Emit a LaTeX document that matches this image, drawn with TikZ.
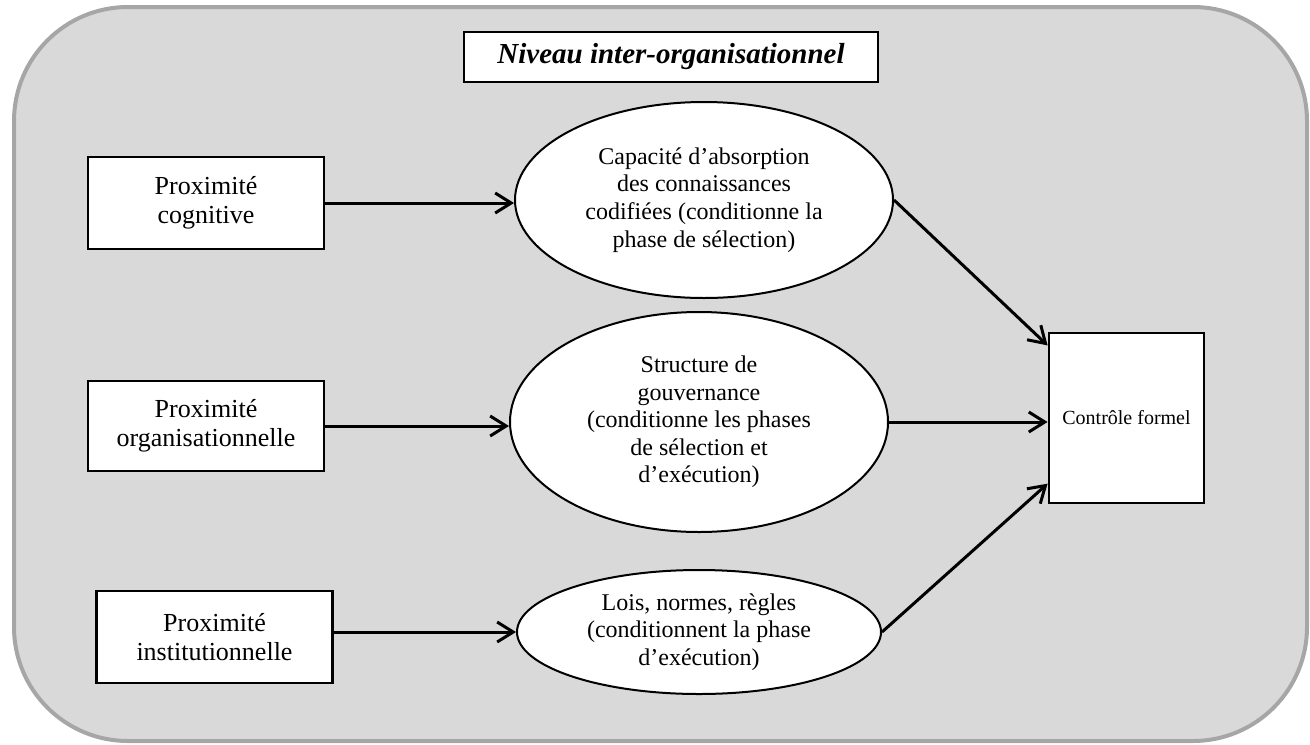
\documentclass[tikz,border=0pt]{standalone}
\usepackage{fontspec}
\setmainfont{Liberation Serif}
\usetikzlibrary{shapes.geometric,arrows.meta,calc}
\definecolor{bgfill}{HTML}{D9D9D9}
\definecolor{bgline}{HTML}{A6A6A6}
\tikzset{
  outerframe/.style={draw=bgline, fill=bgfill, line width=2pt, rounded corners=57pt},
  titlebox/.style={draw=black, fill=white, line width=1.2pt, minimum width=207pt, minimum height=25pt, inner sep=0pt, font=\fontsize{14.5}{16}\selectfont\bfseries\itshape},
  proxbox/.style={draw=black, fill=white, line width=1.4pt, minimum width=118pt, minimum height=46pt, inner sep=0pt, align=center, font=\fontsize{13}{14.5}\selectfont},
  effect/.style={ellipse, draw=black, fill=white, line width=1pt, inner sep=0pt, align=center, font=\fontsize{12}{13.8}\selectfont},
  outbox/.style={draw=black, fill=white, line width=1.4pt, minimum width=77.5pt, minimum height=85pt, inner sep=0pt, align=center, font=\fontsize{10}{12}\selectfont},
  arr/.style={-{Straight Barb[length=8pt,width=10pt]}, line width=1.5pt}
}
\begin{document}
\begin{tikzpicture}[x=0.5pt,y=-0.5pt]
\useasboundingbox (0,0) rectangle (1310,744);
\draw[outerframe] (14,7) rectangle (1307,741);
\node[titlebox] (title) at (671,57) {Niveau inter-organisationnel};
\node[proxbox] (b1) at (206,203) {Proximité\\cognitive};
\node[proxbox, minimum height=45pt] (b2) at (206,426) {Proximité\\organisationnelle};
\node[proxbox] (b3) at (214.5,637) {Proximité\\institutionnelle};
\node[effect, minimum width=189pt, minimum height=98pt] (e1) at (704,200) {Capacité d’absorption\\des connaissances\\codifiées (conditionne la\\phase de sélection)};
\node[effect, minimum width=189pt, minimum height=110pt] (e2) at (699,422) {Structure de\\gouvernance\\(conditionne les phases\\de sélection et\\d’exécution)};
\node[effect, minimum width=182pt, minimum height=62pt] (e3) at (699,632) {Lois, normes, règles\\(conditionnent la phase\\d’exécution)};
\node[outbox] (c) at (1126.5,418) {Contrôle formel};
\coordinate (c1) at ($(c.north west)!0.08!(c.south west)$);
\coordinate (c3) at ($(c.north west)!0.88!(c.south west)$);
\draw[arr] (b1.east) -- (b1.east -| e1.west);
\draw[arr] (b2.east) -- (b2.east -| e2.west);
\draw[arr] (b3.east |- e3.west) -- (e3.west);
\draw[arr] (e1.east) -- (c1);
\draw[arr] (e2.east) -- (e2.east -| c.west);
\draw[arr] (e3.east) -- (c3);
\end{tikzpicture}
\end{document}
